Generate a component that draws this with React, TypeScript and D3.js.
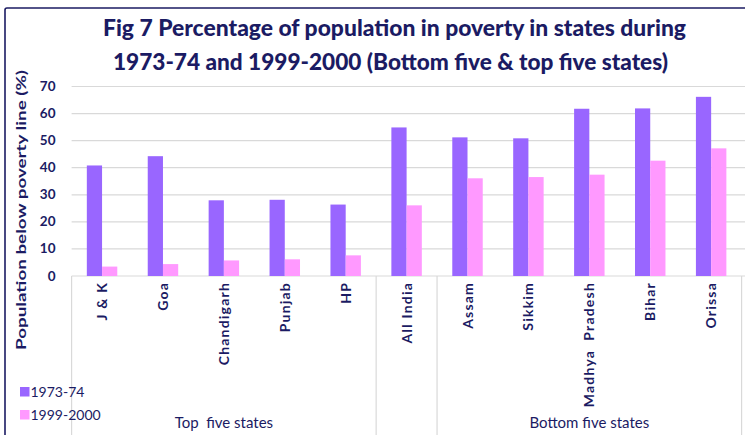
import React, { useEffect, useRef } from "react";
import * as d3 from "d3";

const categories = ["J & K", "Goa", "Chandigarh", "Punjab", "HP", "All India", "Assam", "Sikkim", "Madhya  Pradesh", "Bihar", "Orissa"];
const series1973 = [40.83, 44.26, 27.96, 28.15, 26.39, 54.88, 51.21, 50.86, 61.78, 61.91, 66.18];
const series1999 = [3.48, 4.4, 5.75, 6.16, 7.63, 26.1, 36.09, 36.55, 37.43, 42.6, 47.15];
const seriesNames = ["1973-74", "1999-2000"];
const seriesColors = ["#9966FF", "#FF99FF"];
const groups = [
  { label: "Top  five states", from: 0, to: 4 },
  { label: "", from: 5, to: 5 },
  { label: "Bottom five states", from: 6, to: 10 },
];
const yTicks = [0, 10, 20, 30, 40, 50, 60, 70];
const titleLines = [
  "Fig 7 Percentage of population in poverty in states during",
  "1973-74 and 1999-2000 (Bottom five & top five states)",
];
const yTitle = "Population  below poverty line (%)";

const W = 745;
const H = 435;
const navy = "#1b1b63";
const FONT = "Lato, 'Open Sans', sans-serif";

export default function App() {
  const ref = useRef<SVGSVGElement | null>(null);

  useEffect(() => {
    const svg = d3.select(ref.current);
    svg.selectAll("*").remove();

    const plotLeft = 71.6;
    const plotRight = 741.6;
    const y0 = 276;
    const yTop = 86.5;

    const x = d3.scaleBand<string>().domain(categories).range([plotLeft, plotRight]).paddingInner(0).paddingOuter(0);
    const inner = d3.scaleBand<string>().domain(seriesNames).range([0, x.bandwidth()]).paddingInner(0).paddingOuter(1);
    const y = d3.scaleLinear().domain([0, 70]).range([y0, yTop]);

    svg.append("rect").attr("x", 0).attr("y", 0).attr("width", W).attr("height", H).attr("fill", "#fff");

    // border
    svg.append("rect").attr("x", 5).attr("y", 8).attr("width", W + 20).attr("height", H + 20)
      .attr("fill", "none").attr("stroke", navy).attr("stroke-width", 1.6).attr("rx", 2);

    // title
    const tl = [{ y: 36, len: 583, cx: 394.5 }, { y: 70, len: 555, cx: 390.5 }];
    titleLines.forEach((t, i) => {
      svg.append("text").attr("x", tl[i].cx).attr("y", tl[i].y).attr("text-anchor", "middle")
        .attr("font-family", FONT).attr("font-weight", 900).attr("font-size", 23.5)
        .attr("fill", navy).attr("textLength", tl[i].len).attr("lengthAdjust", "spacingAndGlyphs").text(t);
    });

    // gridlines
    svg.append("g").selectAll("line").data(yTicks).join("line")
      .attr("x1", plotLeft).attr("x2", W).attr("y1", (d) => y(d)).attr("y2", (d) => y(d))
      .attr("stroke", "#d9d9d9").attr("stroke-width", 1.2);

    // y tick labels
    svg.append("g").selectAll("text").data(yTicks).join("text")
      .attr("x", 55.5).attr("y", (d) => y(d) + 4.5).attr("text-anchor", "end")
      .attr("font-family", FONT).attr("font-weight", "bold").attr("font-size", 13.5)
      .attr("fill", navy).text((d) => String(d));

    // y title
    svg.append("text").attr("transform", `translate(26, ${210}) rotate(-90)`).attr("text-anchor", "middle")
      .attr("font-family", FONT).attr("font-weight", "bold").attr("font-size", 14).attr("fill", navy)
      .attr("textLength", 280).attr("lengthAdjust", "spacingAndGlyphs").text(yTitle);

    // bars
    const valuesBySeries = [series1973, series1999];
    valuesBySeries.forEach((vals, si) => {
      svg.append("g").selectAll("rect").data(vals).join("rect")
        .attr("x", (_d, i) => (x(categories[i]) as number) + (inner(seriesNames[si]) as number))
        .attr("width", inner.bandwidth())
        .attr("y", (d) => y(d))
        .attr("height", (d) => y0 - y(d))
        .attr("fill", seriesColors[si]);
    });

    // category separators (group boundaries)
    const bounds = [plotLeft, ...groups.map((g) => (x(categories[g.to]) as number) + x.bandwidth())];
    svg.append("g").selectAll("line").data(bounds).join("line")
      .attr("x1", (d) => d).attr("x2", (d) => d).attr("y1", y0).attr("y2", H)
      .attr("stroke", "#d9d9d9").attr("stroke-width", 1.2);

    // category labels
    svg.append("g").selectAll("text").data(categories).join("text")
      .attr("transform", (d) => `translate(${(x(d) as number) + x.bandwidth() / 2 + 5}, 282) rotate(-90)`)
      .attr("text-anchor", "end")
      .attr("font-family", FONT).attr("font-weight", "bold").attr("font-size", 14)
      .attr("letter-spacing", 1.2)
      .attr("fill", navy).style("white-space", "pre").text((d) => d);

    // group labels
    svg.append("g").selectAll("text").data(groups.filter((g) => g.label)).join("text")
      .attr("x", (g) => ((x(categories[g.from]) as number) + (x(categories[g.to]) as number) + x.bandwidth()) / 2)
      .attr("y", 428).attr("text-anchor", "middle")
      .attr("font-family", FONT).attr("font-size", 15).attr("fill", navy)
      .style("white-space", "pre").text((g) => g.label);

    // legend
    seriesNames.forEach((n, i) => {
      const ly = 387 + i * 23;
      svg.append("rect").attr("x", 20).attr("y", ly).attr("width", 9.5).attr("height", 9.5).attr("fill", seriesColors[i]);
      svg.append("text").attr("x", 30.5).attr("y", ly + 9.8).attr("font-family", FONT).attr("font-size", 14)
        .attr("fill", navy).text(n);
    });
  }, []);

  return (
    <div style={{ position: "fixed", left: 0, top: 0 }}>
      <svg ref={ref} width={W} height={H} style={{ display: "block" }} />
    </div>
  );
}
